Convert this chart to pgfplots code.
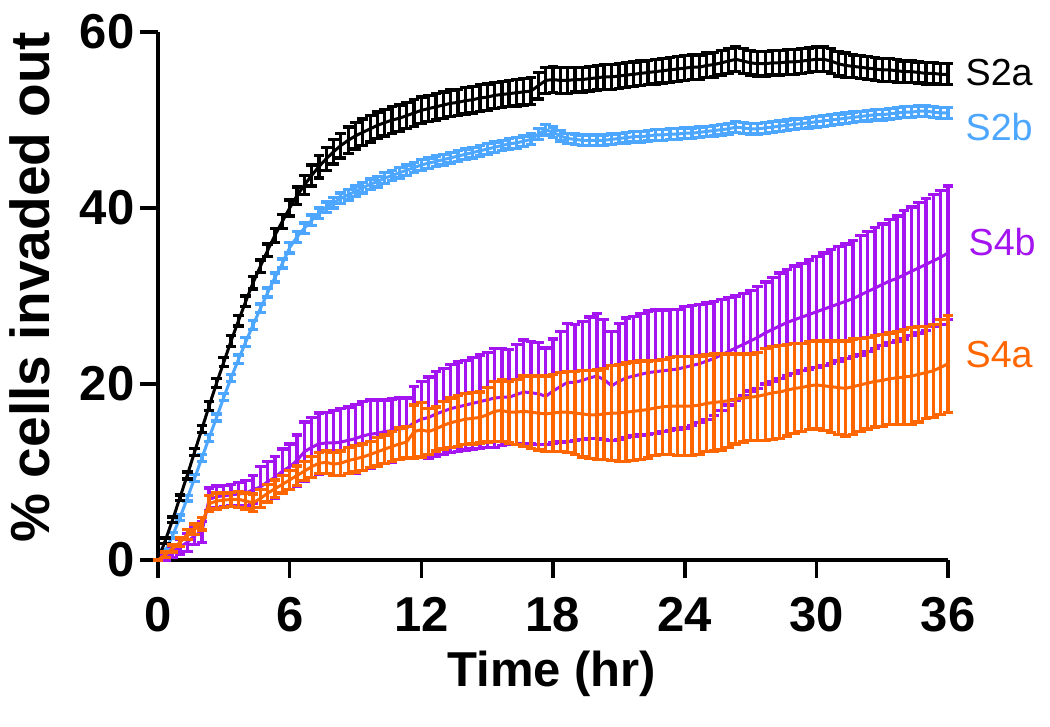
\documentclass[border=0pt]{standalone}
\usepackage{fontspec}
\setmainfont{Liberation Sans}
\usepackage{pgfplots}
\usepackage{pgfplotstable}
\pgfplotsset{compat=1.18}
\definecolor{cA}{RGB}{0,0,0}
\definecolor{cB}{RGB}{77,166,255}
\definecolor{cC}{RGB}{163,20,240}
\definecolor{cD}{RGB}{255,102,0}

\pgfplotstableread{
t a ea b eb c ec d ed
0 0.0 0.0 0.0 0.0 0.0 0.0 0.0 0.0
0.33 2.2 0.3 1.0 0.2 0.3 0.3 0.6 0.3
0.67 4.6 0.3 2.8 0.3 0.9 0.6 1.3 0.4
1 7.1 0.3 4.8 0.3 1.5 0.9 2.0 0.5
1.33 9.6 0.4 7.0 0.3 2.0 1.0 2.9 0.6
1.67 12.3 0.4 9.3 0.4 2.8 1.0 3.5 0.6
2 14.9 0.4 11.6 0.4 3.2 1.2 4.1 0.7
2.33 17.5 0.5 13.9 0.4 6.9 1.3 6.4 0.9
2.67 20.1 0.5 16.2 0.4 7.2 1.2 6.7 0.9
3 22.5 0.5 18.5 0.4 7.3 1.2 6.8 0.8
3.33 24.9 0.6 20.7 0.4 7.4 1.2 6.9 0.8
3.67 27.2 0.6 22.8 0.5 7.5 1.3 6.9 0.9
4 29.4 0.6 24.8 0.5 7.6 1.4 6.7 0.9
4.33 31.5 0.7 26.7 0.5 8.0 1.6 6.5 1.0
4.67 33.4 0.7 28.6 0.5 8.3 2.3 7.0 1.0
5 35.2 0.7 30.4 0.5 8.9 2.3 7.6 1.0
5.33 36.9 0.8 32.1 0.5 9.4 2.4 8.1 1.0
5.67 38.5 0.8 33.7 0.5 10.1 2.5 8.6 1.0
6 40.0 0.9 35.5 0.6 10.6 2.6 9.1 1.1
6.33 41.4 1.0 36.7 0.6 11.3 2.9 9.6 1.1
6.67 42.6 1.1 37.7 0.6 12.3 3.4 10.1 1.1
7 43.7 1.2 38.6 0.6 12.8 3.4 10.6 1.2
7.33 44.7 1.3 39.4 0.6 13.2 3.5 11.0 1.2
7.67 45.6 1.3 40.1 0.6 13.3 3.5 11.1 1.3
8 46.4 1.4 40.6 0.6 13.3 3.7 10.9 1.3
8.33 47.1 1.4 41.1 0.6 13.4 3.8 11.0 1.4
8.67 47.7 1.5 41.5 0.6 13.6 3.8 11.3 1.5
9 48.2 1.5 41.9 0.6 13.8 3.9 11.5 1.5
9.33 48.6 1.5 42.3 0.6 14.1 3.9 11.7 1.5
9.67 49.0 1.5 42.7 0.6 14.3 3.9 12.0 1.5
10 49.4 1.5 43.0 0.6 14.4 3.8 12.3 1.6
10.33 49.7 1.5 43.4 0.6 14.6 3.6 12.6 1.6
10.67 50.0 1.5 43.7 0.6 14.7 3.6 12.9 1.7
11 50.2 1.5 44.0 0.6 14.9 3.5 13.2 1.8
11.33 50.5 1.5 44.3 0.6 15.0 3.4 13.4 1.8
11.67 50.8 1.5 44.6 0.6 15.6 4.1 14.6 3.0
12 51.1 1.5 44.9 0.6 16.0 4.3 14.8 3.1
12.33 51.3 1.5 45.1 0.6 16.2 4.6 14.6 2.6
12.67 51.5 1.5 45.3 0.6 16.6 4.8 14.9 2.5
13 51.7 1.5 45.5 0.6 16.9 4.9 15.3 2.7
13.33 51.9 1.5 45.7 0.6 17.2 5.0 15.6 2.8
13.67 52.0 1.5 45.9 0.6 17.4 5.1 15.8 2.9
14 52.2 1.5 46.1 0.6 17.6 5.1 16.0 2.9
14.33 52.3 1.5 46.3 0.6 17.8 5.2 16.1 2.9
14.67 52.5 1.5 46.5 0.6 18.0 5.3 16.2 2.9
15 52.6 1.5 46.7 0.6 18.2 5.4 16.5 3.1
15.33 52.8 1.5 46.9 0.6 18.4 5.6 16.9 3.4
15.67 52.9 1.5 47.1 0.6 18.5 5.5 17.0 3.5
16 53.0 1.5 47.3 0.6 18.5 5.4 16.8 3.5
16.33 53.1 1.5 47.4 0.6 18.8 5.7 16.8 3.7
16.67 53.2 1.5 47.6 0.6 19.1 5.9 16.9 4.0
17 53.3 1.5 47.8 0.6 19.0 5.8 16.8 4.1
17.33 53.9 1.5 48.4 0.6 18.9 5.8 16.7 4.2
17.67 54.5 1.5 48.9 0.6 18.6 5.5 16.6 4.3
18 54.6 1.5 48.6 0.6 19.2 5.9 16.7 4.4
18.33 54.5 1.5 48.2 0.6 19.7 6.3 16.8 4.5
18.67 54.5 1.5 47.9 0.6 20.2 6.7 16.8 4.6
19 54.6 1.4 47.8 0.6 20.2 6.6 16.7 4.7
19.33 54.6 1.4 47.7 0.6 20.4 6.7 16.6 4.9
19.67 54.7 1.4 47.7 0.6 20.7 6.9 16.5 5.0
20 54.8 1.4 47.7 0.6 20.9 7.1 16.5 5.1
20.33 54.9 1.4 47.7 0.6 20.5 6.8 16.6 5.2
20.67 54.9 1.4 47.8 0.6 19.8 6.2 16.7 5.4
21 55.0 1.4 47.9 0.6 20.3 6.6 16.7 5.5
21.33 55.1 1.4 48.0 0.6 20.7 6.8 16.8 5.6
21.67 55.2 1.4 48.1 0.6 20.9 6.8 16.9 5.6
22 55.3 1.4 48.1 0.6 21.1 6.9 17.0 5.6
22.33 55.4 1.4 48.2 0.6 21.3 7.0 17.1 5.5
22.67 55.5 1.4 48.3 0.6 21.4 7.0 17.3 5.4
23 55.6 1.4 48.3 0.6 21.5 6.9 17.4 5.4
23.33 55.7 1.4 48.4 0.6 21.6 6.9 17.5 5.5
23.67 55.8 1.4 48.4 0.6 21.7 6.8 17.5 5.6
24 55.9 1.4 48.5 0.6 21.9 6.9 17.5 5.6
24.33 56.0 1.4 48.5 0.6 22.1 6.8 17.5 5.6
24.67 56.0 1.4 48.6 0.6 22.3 6.7 17.6 5.6
25 56.2 1.4 48.7 0.6 22.6 6.6 17.8 5.5
25.33 56.3 1.4 48.8 0.6 22.9 6.5 17.9 5.5
25.67 56.5 1.4 48.9 0.6 23.3 6.3 18.0 5.5
26 56.7 1.4 49.0 0.6 23.7 6.1 18.1 5.3
26.33 56.9 1.4 49.2 0.6 24.1 5.9 18.3 5.1
26.67 56.7 1.4 49.1 0.6 24.5 5.8 18.4 5.0
27 56.5 1.4 49.0 0.6 24.9 5.7 18.5 4.9
27.33 56.4 1.4 49.0 0.6 25.3 5.8 18.6 5.0
27.67 56.4 1.4 49.1 0.6 25.8 5.8 18.8 5.2
28 56.5 1.4 49.2 0.6 26.2 5.9 19.0 5.3
28.33 56.5 1.4 49.3 0.6 26.6 6.0 19.1 5.3
28.67 56.6 1.4 49.4 0.6 27.0 6.0 19.3 5.2
29 56.6 1.4 49.5 0.6 27.3 6.1 19.5 5.1
29.33 56.7 1.4 49.6 0.6 27.6 6.1 19.6 5.0
29.67 56.8 1.4 49.7 0.6 27.9 6.2 19.8 5.0
30 56.9 1.4 49.8 0.6 28.2 6.3 19.9 5.0
30.33 56.9 1.4 49.9 0.6 28.5 6.4 19.8 5.1
30.67 56.7 1.4 50.0 0.6 28.8 6.5 19.7 5.2
31 56.4 1.4 50.1 0.6 29.1 6.5 19.6 5.3
31.33 56.2 1.4 50.2 0.6 29.4 6.5 19.5 5.4
31.67 56.1 1.3 50.3 0.6 29.7 6.6 19.7 5.4
32 56.0 1.3 50.4 0.6 30.1 6.8 19.9 5.3
32.33 55.9 1.3 50.5 0.6 30.5 6.8 20.1 5.2
32.67 55.8 1.3 50.6 0.6 30.9 6.9 20.3 5.2
33 55.7 1.3 50.6 0.6 31.3 6.9 20.4 5.2
33.33 55.7 1.3 50.7 0.6 31.7 7.0 20.6 5.2
33.67 55.6 1.3 50.8 0.6 32.0 7.1 20.7 5.3
34 55.5 1.2 50.9 0.6 32.4 7.3 20.8 5.4
34.33 55.5 1.2 50.9 0.6 32.8 7.3 20.9 5.5
34.67 55.4 1.2 51.0 0.6 33.2 7.4 21.1 5.4
35 55.3 1.2 51.0 0.6 33.6 7.5 21.3 5.2
35.33 55.3 1.2 50.9 0.6 34.0 7.5 21.5 5.3
35.67 55.2 1.2 50.8 0.6 34.4 7.6 21.9 5.4
36 55.2 1.2 50.8 0.6 34.9 7.6 22.3 5.5
}\data

\pgfplotsset{
  ebar/.style={line width=0.9pt, mark=none,
    error bars/y dir=both, error bars/y explicit,
    error bars/error bar style={line width=1.0pt},
    error bars/error mark options={rotate=90, mark size=1.6pt, line width=1.0pt}},
}

\begin{document}
\begin{tikzpicture}
\path[use as bounding box] (-47.4pt,-49.8pt) rectangle (267.6pt,168pt);
\begin{axis}[
  at={(0,0)}, anchor=south west,
  width=237pt, height=158.4pt, scale only axis,
  xmin=0, xmax=36, ymin=0, ymax=60,
  axis x line*=bottom, axis y line*=left,
  axis line style={line width=1.2pt},
  xtick={0,6,...,36}, ytick={0,20,40,60},
  tick align=outside, major tick length=5.4pt,
  every tick/.style={black, line width=1.1pt},
  /pgf/number format/assume math mode=true,
  ticklabel style={font=\bfseries\fontsize{14.7}{14.7}\selectfont},
  xticklabel style={inner sep=0pt, anchor=north, yshift=-5.7pt},
  yticklabel style={inner sep=0pt, anchor=east, xshift=-1.5pt},
  xlabel={Time (hr)}, ylabel={\% cells invaded out},
  xlabel style={font=\bfseries\fontsize{14.7}{14.7}\selectfont, at={(axis description cs:0.4987,0)}, anchor=center, yshift=-34pt},
  ylabel style={font=\bfseries\fontsize{16.5}{16.5}\selectfont, at={(axis description cs:-0.162,0.517)}, anchor=center},
  clip=false,
]
\addplot[color=cB, ebar] table[x=t, y=b, y error=eb] {\data};
\addplot[color=cA, ebar] table[x=t, y=a, y error=ea] {\data};
\addplot[color=cC, ebar] table[x=t, y=c, y error=ec] {\data};
\addplot[color=cD, ebar] table[x=t, y=d, y error=ed] {\data};
\node[anchor=west, text=cA, font=\fontsize{11.3}{11.3}\selectfont, inner sep=0pt] at (axis cs:36,55.4) [xshift=5.1pt] {S2a};
\node[anchor=west, text=cB, font=\fontsize{11.3}{11.3}\selectfont, inner sep=0pt] at (axis cs:36,49.2) [xshift=5.1pt] {S2b};
\node[anchor=west, text=cC, font=\fontsize{11.3}{11.3}\selectfont, inner sep=0pt] at (axis cs:36,36.1) [xshift=6pt] {S4b};
\node[anchor=west, text=cD, font=\fontsize{11.3}{11.3}\selectfont, inner sep=0pt] at (axis cs:36,23.3) [xshift=5.1pt] {S4a};
\end{axis}
\end{tikzpicture}
\end{document}
